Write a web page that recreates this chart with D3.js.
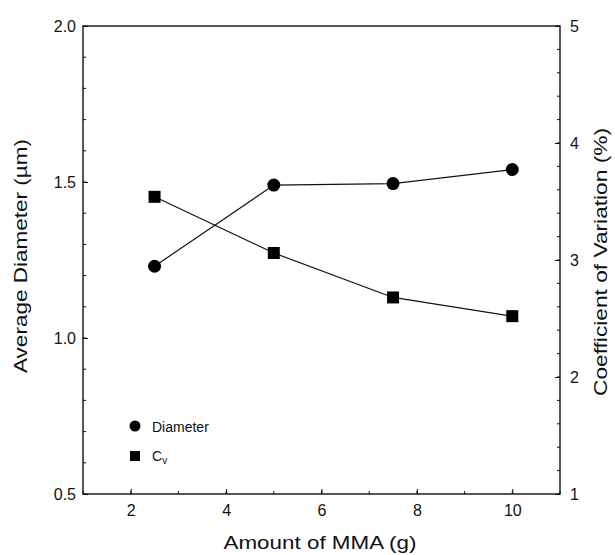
<!DOCTYPE html>
<html>
<head>
<meta charset="utf-8">
<script src="https://cdn.jsdelivr.net/npm/d3@7"></script>
<style>
  body { margin: 0; background: #fff; }
  svg text { font-family: "Liberation Sans", Arial, sans-serif; fill: #111; }
</style>
</head>
<body>
<div id="chart"></div>
<script>
const mma = [2.5, 5, 7.5, 10];
const diameter = [1.23, 1.49, 1.495, 1.54];
const cv = [3.54, 3.06, 2.68, 2.52];
const xTicks = [2, 4, 6, 8, 10];
const leftTicks = [0.5, 1.0, 1.5, 2.0];
const rightTicks = [1, 2, 3, 4, 5];

const w = 615, h = 555;
const padL = 83, padR = 560, padT = 26, padB = 494;

const svg = d3.select('#chart').append('svg')
  .attr('width', w).attr('height', h);

const x = d3.scaleLinear().domain([1, 11]).range([padL, padR]);
const yL = d3.scaleLinear().domain([0.5, 2.0]).range([padB, padT]);
const yR = d3.scaleLinear().domain([1, 5]).range([padB, padT]);

// frame
svg.append('rect')
  .attr('x', padL).attr('y', padT)
  .attr('width', padR - padL).attr('height', padB - padT)
  .attr('fill', 'none').attr('stroke', '#111').attr('stroke-width', 1.4);

// minor ticks (inward)
function minor(g, vals, fn, len) {
  g.selectAll(null).data(vals).enter().append('line')
    .attr('stroke', '#111').attr('stroke-width', 1)
    .each(function (d) { fn(d3.select(this), d, len); });
}
const minorX = d3.range(1, 12, 1);
const minorL = d3.range(0.5, 2.001, 0.1);
const minorR = d3.range(1, 5.001, 0.2);

const ticks = svg.append('g');
minor(ticks, minorX, (s, d, l) => s.attr('x1', x(d)).attr('x2', x(d)).attr('y1', padB).attr('y2', padB - l), 3);
minor(ticks, minorL, (s, d, l) => s.attr('x1', padL).attr('x2', padL + l).attr('y1', yL(d)).attr('y2', yL(d)), 3);
minor(ticks, minorR, (s, d, l) => s.attr('x1', padR).attr('x2', padR - l).attr('y1', yR(d)).attr('y2', yR(d)), 3);

// major axes
const xAxis = d3.axisBottom(x).tickValues(xTicks).tickSize(-5).tickPadding(11).tickFormat(d3.format('d'));
const lAxis = d3.axisLeft(yL).tickValues(leftTicks).tickSize(-5).tickPadding(7).tickFormat(d3.format('.1f'));
const rAxis = d3.axisRight(yR).tickValues(rightTicks).tickSize(-5).tickPadding(10).tickFormat(d3.format('d'));

function style(g) {
  g.select('.domain').remove();
  g.selectAll('line').attr('stroke', '#111');
  g.selectAll('text').attr('font-size', 16).attr('fill', '#111')
    .style('font-family', '"Liberation Sans", Arial, sans-serif');
}
svg.append('g').attr('transform', `translate(0,${padB})`).call(xAxis).call(style);
svg.append('g').attr('transform', `translate(${padL},0)`).call(lAxis).call(style);
svg.append('g').attr('transform', `translate(${padR},0)`).call(rAxis).call(style);

// lines
const lineD = d3.line().x((d, i) => x(mma[i])).y(d => yL(d));
const lineC = d3.line().x((d, i) => x(mma[i])).y(d => yR(d));
svg.append('path').attr('d', lineD(diameter)).attr('fill', 'none').attr('stroke', '#111').attr('stroke-width', 1.2);
svg.append('path').attr('d', lineC(cv)).attr('fill', 'none').attr('stroke', '#111').attr('stroke-width', 1.2);

// markers
svg.selectAll('.dot').data(diameter).enter().append('circle')
  .attr('cx', (d, i) => x(mma[i])).attr('cy', d => yL(d)).attr('r', 6.5).attr('fill', '#000');
svg.selectAll('.sq').data(cv).enter().append('rect')
  .attr('x', (d, i) => x(mma[i]) - 6).attr('y', d => yR(d) - 6)
  .attr('width', 12).attr('height', 12).attr('fill', '#000');

// legend
const leg = svg.append('g');
leg.append('circle').attr('cx', 135).attr('cy', 426).attr('r', 5.5).attr('fill', '#000');
leg.append('text').attr('x', 152).attr('y', 432).attr('font-size', 14).text('Diameter');
leg.append('rect').attr('x', 130).attr('y', 451).attr('width', 10).attr('height', 10).attr('fill', '#000');
const cvt = leg.append('text').attr('x', 152).attr('y', 461).attr('font-size', 14);
cvt.append('tspan').text('C');
cvt.append('tspan').attr('font-size', 10).attr('dy', 3).text('v');

// axis titles
svg.append('text').attr('x', 320).attr('y', 549)
  .attr('text-anchor', 'middle').attr('font-size', 19)
  .attr('textLength', 193).attr('lengthAdjust', 'spacingAndGlyphs')
  .text('Amount of MMA (g)');
svg.append('text').attr('transform', `translate(27,256) rotate(-90)`)
  .attr('text-anchor', 'middle').attr('font-size', 19)
  .attr('textLength', 234).attr('lengthAdjust', 'spacingAndGlyphs')
  .text('Average Diameter (\u00b5m)');
svg.append('text').attr('transform', `translate(607,262) rotate(-90)`)
  .attr('text-anchor', 'middle').attr('font-size', 19)
  .attr('textLength', 268).attr('lengthAdjust', 'spacingAndGlyphs')
  .text('Coefficient of Variation (%)');
</script>
</body>
</html>
